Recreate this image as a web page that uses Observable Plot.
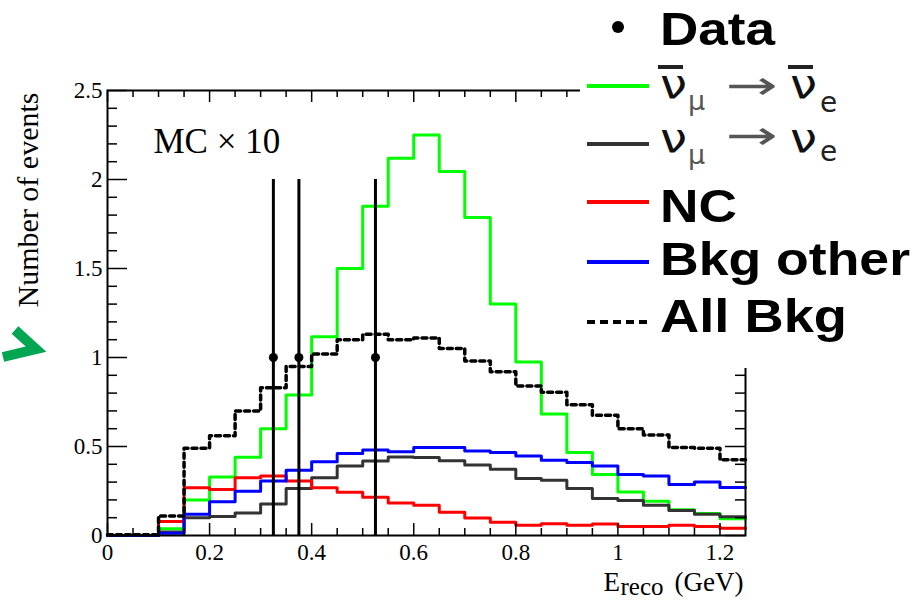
<!DOCTYPE html>
<html><head><meta charset="utf-8">
<script src="https://cdn.jsdelivr.net/npm/d3@7"></script>
<script src="https://cdn.jsdelivr.net/npm/@observablehq/plot@0.6"></script>
<style>
html,body{margin:0;padding:0;background:#fff;}
#wrap{position:relative;width:915px;height:603px;overflow:hidden;background:#fff;}
#wrap svg.overlay{position:absolute;}
</style></head><body><div id="wrap"></div>
<script>
// ---- data ----
const binLow = [0,0.05,0.1,0.15,0.2,0.25,0.3,0.35,0.4,0.45,0.5,0.55,0.6,0.65,0.7,0.75,0.8,0.85,0.9,0.95,1,1.05,1.1,1.15,1.2];
const binEnd = 1.25;
const antiNumuToAntiNue = [0,0,0.038,0.20,0.328,0.44,0.60,0.79,1.117,1.50,1.85,2.12,2.25,2.045,1.787,1.30,0.975,0.683,0.466,0.343,0.245,0.192,0.145,0.123,0.094];
const numuToNue = [0,0,0.019,0.10,0.107,0.126,0.177,0.264,0.324,0.39,0.419,0.441,0.438,0.42,0.396,0.372,0.32,0.31,0.264,0.208,0.196,0.17,0.141,0.12,0.106];
const ncBkg = [0,0,0.079,0.268,0.258,0.324,0.334,0.306,0.268,0.243,0.215,0.183,0.17,0.13,0.098,0.075,0.057,0.066,0.057,0.064,0.051,0.051,0.057,0.051,0.041];
const otherBkg = [0,0,0.012,0.12,0.189,0.249,0.306,0.366,0.415,0.46,0.481,0.471,0.494,0.494,0.475,0.466,0.447,0.423,0.41,0.39,0.343,0.334,0.287,0.30,0.27];
const allBkg = [0.004,0.004,0.11,0.49,0.56,0.70,0.83,0.95,1.02,1.10,1.13,1.10,1.11,1.05,0.98,0.92,0.84,0.805,0.735,0.675,0.60,0.565,0.495,0.49,0.425];

const dataX = [0.325,0.375,0.525];
const dataY = [1,1,1];
const dataErrLow = [0,0,0];
const dataErrHigh = [2,2,2];

const xTicks = [0,0.2,0.4,0.6,0.8,1,1.2];
const xTickLabels = ["0","0.2","0.4","0.6","0.8","1","1.2"];
const xMinorTicks = [0.05,0.1,0.15,0.25,0.3,0.35,0.45,0.5,0.55,0.65,0.7,0.75,0.85,0.9,0.95,1.05,1.1,1.15];
const yTicks = [0,0.5,1,1.5,2,2.5];
const yTickLabels = ["0","0.5","1","1.5","2","2.5"];
const yMinorTicks = [0.1,0.2,0.3,0.4,0.6,0.7,0.8,0.9,1.1,1.2,1.3,1.4,1.6,1.7,1.8,1.9,2.1,2.2,2.3,2.4];

const seriesNames = ["ν̄μ → ν̄e","νμ → νe","NC","Bkg other","All Bkg"];
const seriesColors = ["#00ff00","#333333","#ff0000","#0000ff","#000000"];
const dataName = "Data";
const xTitleMain = "E", xTitleSub = "reco", xTitleUnit = "(GeV)";
const yTitle = "Number of events";
const annotation = "MC × 10";

// ---- layout ----
const W = 915, H = 603, mL = 107, mR = 170, mT = 90, mB = 68;
const pw = W - mL - mR, ph = H - mT - mB;
const serif = "'Liberation Serif','Times New Roman',serif";

function steps(vals) {
  return binLow.map((x, i) => ({x, v: vals[i]})).concat([{x: binEnd, v: vals[vals.length - 1]}]);
}
const series = [antiNumuToAntiNue, numuToNue, ncBkg, otherBkg, allBkg];
const lineMarks = series.map((s, i) => Plot.lineY(steps(s), {
  x: "x", y: "v", curve: "step-after", stroke: seriesColors[i], strokeWidth: i === 4 ? 3.5 : 3,
  strokeDasharray: i === 4 ? "5,4" : null
}));
const dataRows = dataX.map((x, i) => ({x, y: dataY[i], lo: dataErrLow[i], hi: dataErrHigh[i]}));
const tk = {stroke: "black", strokeWidth: 1.5};

const plot = Plot.plot({
  width: W, height: H, marginLeft: mL, marginRight: mR, marginTop: mT, marginBottom: mB,
  style: {fontFamily: serif, background: "white", color: "black", overflow: "visible"},
  x: {domain: [0, 1.25]},
  y: {domain: [0, 2.5]},
  marks: [
    ...lineMarks,
    Plot.ruleX(dataRows, {x: "x", y1: "lo", y2: "hi", stroke: "black", strokeWidth: 3}),
    Plot.dot(dataRows, {x: "x", y: "y", r: 4.5, fill: "black", stroke: "none"}),
    Plot.tickY(yMinorTicks, {y: d => d, insetRight: pw - 10, ...tk}),
    Plot.tickY(yTicks, {y: d => d, insetRight: pw - 20, ...tk}),
    Plot.tickY(yMinorTicks, {y: d => d, insetLeft: pw - 10, ...tk}),
    Plot.tickY(yTicks, {y: d => d, insetLeft: pw - 20, ...tk}),
    Plot.tickX(xMinorTicks, {x: d => d, insetTop: ph - 7, ...tk}),
    Plot.tickX(xTicks, {x: d => d, insetTop: ph - 12, ...tk}),
    Plot.tickX(xMinorTicks, {x: d => d, insetBottom: ph - 7, ...tk}),
    Plot.tickX(xTicks, {x: d => d, insetBottom: ph - 12, ...tk}),
    Plot.frame({stroke: "black", strokeWidth: 2}),
    Plot.axisX({ticks: xTicks, tickFormat: d => xTickLabels[xTicks.indexOf(d)], tickSize: 0, tickPadding: 8,
      fontSize: 23, fontFamily: serif, label: null}),
    Plot.axisY({ticks: yTicks, tickFormat: d => yTickLabels[yTicks.indexOf(d)], tickSize: 0, tickPadding: 5,
      fontSize: 23, fontFamily: serif, label: null}),
    Plot.text([annotation], {frameAnchor: "top-left", dx: 46, dy: 62, textAnchor: "start", lineAnchor: "bottom",
      fontSize: 35, fontFamily: serif, fill: "black"}),
    Plot.text([yTitle], {frameAnchor: "top-left", rotate: -90, textAnchor: "end", lineAnchor: "middle",
      dx: -79, dy: 2, fontSize: 30, fontFamily: serif, fill: "black"}),
    Plot.text([xTitleMain], {frameAnchor: "bottom-right", dx: -142, dy: 55, textAnchor: "start", lineAnchor: "bottom",
      fontSize: 27, fontFamily: serif, fill: "black"}),
    Plot.text([xTitleSub], {frameAnchor: "bottom-right", dx: -125, dy: 59, textAnchor: "start", lineAnchor: "bottom",
      fontSize: 25, fontFamily: serif, fill: "black"}),
    Plot.text([xTitleUnit], {frameAnchor: "bottom-right", dx: -2, dy: 55, textAnchor: "end", lineAnchor: "bottom",
      fontSize: 27, fontFamily: serif, fill: "black"})
  ]
});
const wrap = document.getElementById("wrap");
wrap.appendChild(plot);

// ---- legend overlay (top right, over the frame) ----
const NS = "http://www.w3.org/2000/svg";
function el(tag, attrs, parent, text) {
  const e = document.createElementNS(NS, tag);
  for (const k in attrs) e.setAttribute(k, attrs[k]);
  if (text != null) e.textContent = text;
  parent.appendChild(e);
  return e;
}
const leg = document.createElementNS(NS, "svg");
leg.setAttribute("class", "overlay");
leg.setAttribute("width", 335); leg.setAttribute("height", 368);
leg.setAttribute("viewBox", "580 0 335 368");
leg.style.left = "580px"; leg.style.top = "0px";
wrap.appendChild(leg);
el("rect", {x: 580, y: 0, width: 335, height: 368, fill: "white"}, leg);
const sans = "'Liberation Sans',Arial,sans-serif";
const bold = {"font-family": sans, "font-weight": "bold", "font-size": 47, fill: "black", lengthAdjust: "spacingAndGlyphs"};
// Data
el("circle", {cx: 618, cy: 27, r: 6, fill: "black"}, leg);
el("text", {...bold, x: 660, y: 45, textLength: 115}, leg, dataName);
// line samples
const sampleY = [86, 144, 202, 262, 322];
seriesColors.forEach((c, i) => {
  el("line", {x1: 587, x2: 649, y1: sampleY[i], y2: sampleY[i], stroke: c, "stroke-width": 4,
    "stroke-dasharray": i === 4 ? "8,5" : "none"}, leg);
});
// neutrino labels
const nuFont = "'DejaVu Sans',sans-serif";
function nuRow(base, bar, sub1base, sub2base, arrowBase) {
  el("text", {x: 660, y: base, "font-family": nuFont, "font-size": 40, fill: "#111", textLength: 27, lengthAdjust: "spacingAndGlyphs"}, leg, "ν");
  el("text", {x: 688, y: sub1base, "font-family": nuFont, "font-size": 27, fill: "#555"}, leg, "μ");
  el("text", {x: 726, y: arrowBase, "font-family": nuFont, "font-size": 40, fill: "#555", textLength: 52, lengthAdjust: "spacingAndGlyphs"}, leg, "→");
  el("text", {x: 790, y: base, "font-family": nuFont, "font-size": 40, fill: "#111", textLength: 27, lengthAdjust: "spacingAndGlyphs"}, leg, "ν");
  el("text", {x: 820, y: sub2base, "font-family": nuFont, "font-size": 28, fill: "#222"}, leg, "e");
  if (bar) {
    el("line", {x1: 658, x2: 683, y1: base - 31, y2: base - 31, stroke: "#222", "stroke-width": 4}, leg);
    el("line", {x1: 788, x2: 813, y1: base - 31, y2: base - 31, stroke: "#222", "stroke-width": 4}, leg);
  }
}
nuRow(98, true, 110, 112, 99);
nuRow(152, false, 164, 161, 149);
el("text", {...bold, x: 660, y: 222, textLength: 77}, leg, seriesNames[2]);
el("text", {...bold, x: 660, y: 275, textLength: 250}, leg, seriesNames[3]);
el("text", {...bold, x: 660, y: 332, textLength: 187}, leg, seriesNames[4]);

// ---- green pointer annotation at left ----
const arr = document.createElementNS(NS, "svg");
arr.setAttribute("class", "overlay");
arr.setAttribute("width", 60); arr.setAttribute("height", 60);
arr.setAttribute("viewBox", "0 315 60 60");
arr.style.left = "0px"; arr.style.top = "315px";
wrap.appendChild(arr);
el("path", {d: "M15,330 L36,349 L3,357", fill: "none", stroke: "#00a651", "stroke-width": 10, "stroke-linejoin": "miter", "stroke-miterlimit": 10}, arr);
</script>
</body></html>
